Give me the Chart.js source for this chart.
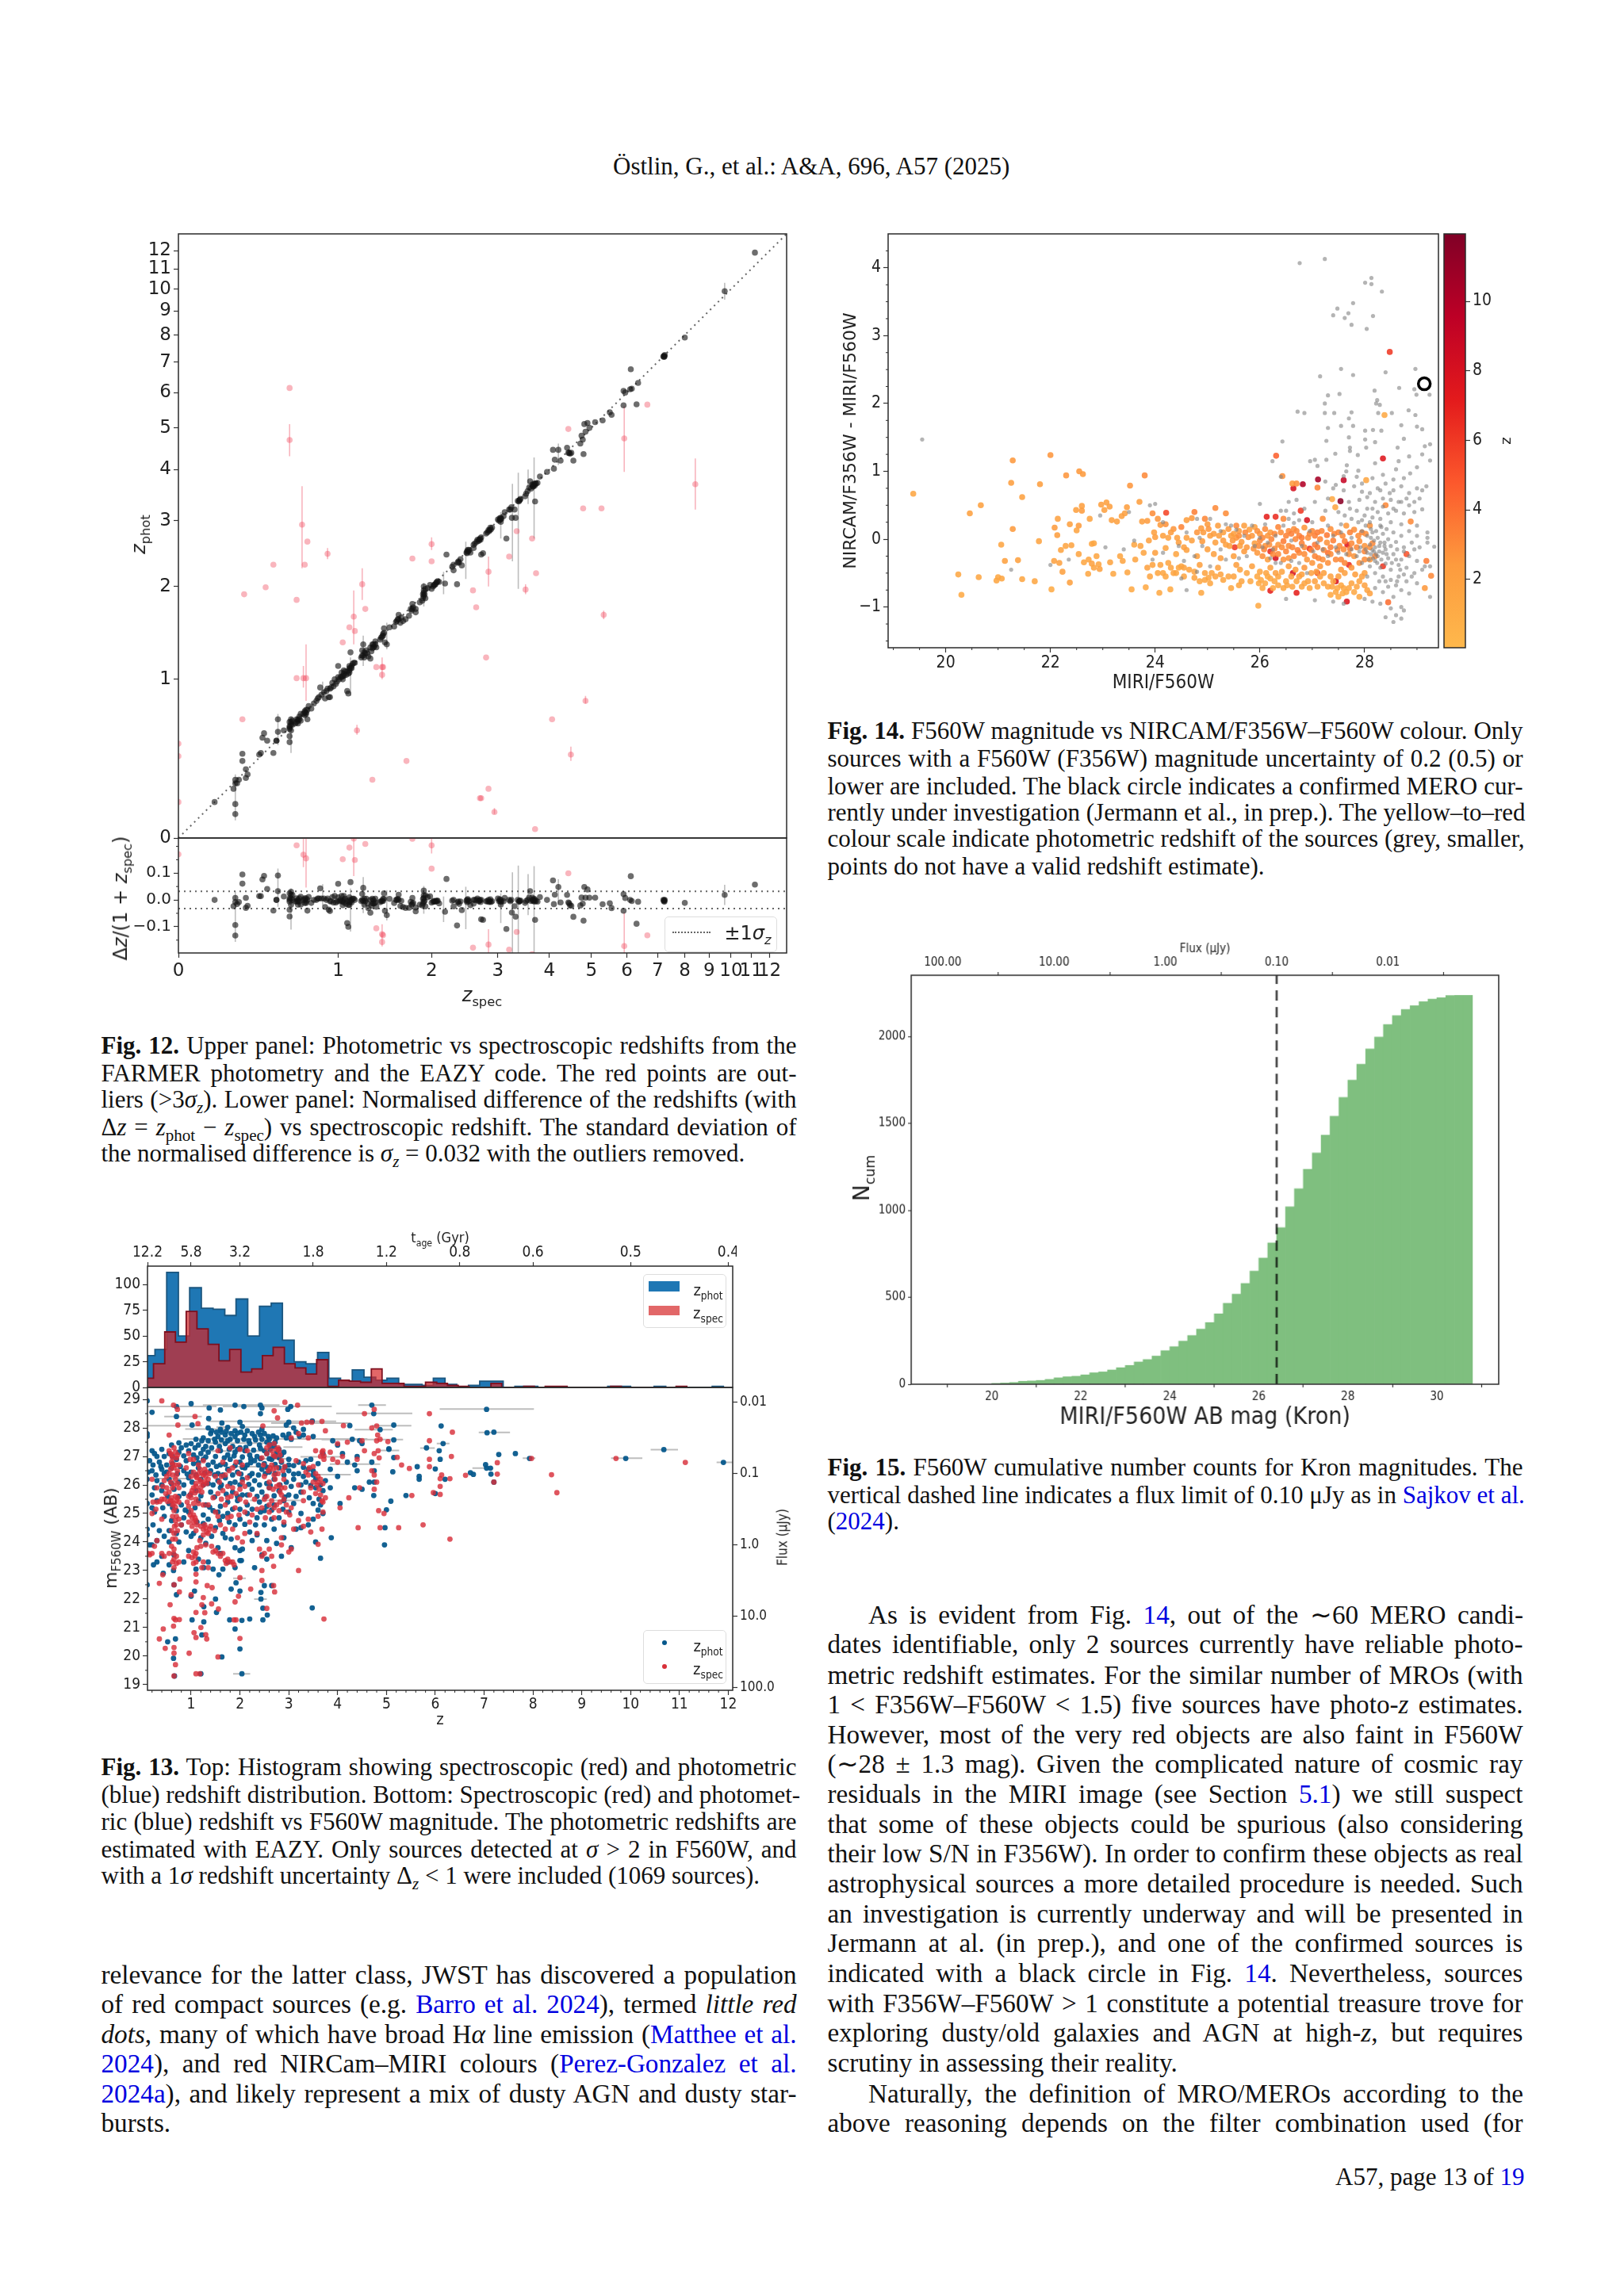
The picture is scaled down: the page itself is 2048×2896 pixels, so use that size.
<!DOCTYPE html>
<html><head><meta charset="utf-8">
<script src="https://cdn.jsdelivr.net/npm/chart.js@4"></script>
<style>
html,body{margin:0;background:#fff;width:2048px;height:2896px;overflow:hidden}
canvas{position:absolute;display:block}
.l{position:absolute;font-family:"Liberation Serif",serif;color:#111;white-space:nowrap;line-height:38px}
.l a{color:#0000e0}
sub{font-size:.68em;line-height:0}
.t{position:absolute;white-space:nowrap;color:#222;font-family:"DejaVu Sans",sans-serif;line-height:1}
.box{position:absolute;border:1px solid #ddd;border-radius:5px;background:rgba(255,255,255,.8)}
</style></head><body>
<script>
// ---------- Fig. 12 data: [z_spec, z_phot]
const fig12Ticks=[0,1,2,3,4,5,6,7,8,9,10,11,12];
const fig12GoodA=[[.17,.17],[.28,.11],[.28,.16],[.27,.24],[.28,.27],[.29,.27],[.28,.29],[.3,.29],[.34,.3],[.32,.445],[.32,.4],[.34,.35],[.35,.32],[.42,.44],[.43,.45],[.44,.55],[.45,.58],[.47,.53],[.51,.45],[.53,.53],[.53,.53],[.54,.59],[.54,.68],[.58,.6],[.62,.52],[.62,.56],[.62,.62],[.62,.66],[.63,.68],[.63,.66],[.64,.64],[.67,.66],[.68,.68],[.68,.65],[.69,.7],[.7,.72],[.7,.67],[.73,.71],[.74,.73],[.74,.75],[.75,.68],[.76,.78],[.82,.82],[.84,.85],[.85,.93],[.86,.87],[.88,.89],[.89,.84],[.9,.9],[.92,.85],[.93,.92],[.93,.85],[.95,.97],[.96,.94],[.97,1.0],[.98,.96],[1.0,1.12],[1.0,1.02],[1.02,1.02],[1.03,1.06],[1.04,1.0],[1.05,1.05],[1.05,1.08],[1.05,1.03],[1.08,.9],[1.09,.88],[1.09,1.05],[1.1,1.08],[1.1,1.12],[1.11,1.25],[1.12,1.1],[1.13,1.14],[1.15,1.15],[1.22,1.22],[1.22,1.27],[1.23,1.33],[1.24,1.2],[1.25,1.24],[1.26,1.27],[1.3,1.19],[1.31,1.26],[1.32,1.29],[1.33,1.33],[1.34,1.31],[1.35,1.36],[1.36,1.3],[1.4,1.38],[1.42,1.41],[1.43,1.44],[1.44,1.5],[1.45,1.35],[1.47,1.33],[1.5,1.51],[1.55,1.52],[1.58,1.58],[1.6,1.65],[1.6,1.6],[1.62,1.56],[1.65,1.58],[1.68,1.6],[1.72,1.64],[1.75,1.7],[1.76,1.78],[1.77,1.74],[1.8,1.72],[1.8,1.68],[1.85,1.8],[1.88,1.82],[1.9,1.88],[1.9,1.95],[1.9,2.0],[1.92,1.85],[1.95,1.98],[1.98,2.02],[2.0,1.97],[2.02,2.0],[2.04,2.02],[2.06,2.05],[2.1,2.06],[2.18,2.04],[2.2,2.45],[2.3,2.3],[2.3,2.22],[2.35,2.03],[2.38,2.33],[2.4,2.38],[2.42,2.29],[2.5,2.5],[2.52,2.5],[2.55,2.48],[2.6,2.6],[2.6,2.55],[2.65,2.65],[2.68,2.66],[2.7,2.7],[2.72,2.72],[2.72,2.45],[2.75,2.47],[2.8,2.78],[2.85,2.82],[2.88,2.85],[2.9,2.88],[3.02,3.0],[3.05,3.05],[3.05,2.98],[3.1,3.08],[3.12,3.15],[3.15,2.7],[3.2,3.2],[3.25,3.05],[3.3,3.2],[3.32,3.05],[3.38,3.35],[3.4,3.38],[3.5,3.45],[3.55,3.55],[3.6,3.75],[3.62,3.6],[3.65,3.65],[3.68,3.7],[3.7,3.35],[3.7,3.7],[3.75,3.72],[3.8,3.85],[3.95,3.95],[4.08,4.45],[4.1,4.02],[4.12,4.22],[4.2,4.45],[4.25,4.2],[4.4,4.5],[4.45,4.38],[4.5,4.38],[4.55,4.2],[4.72,4.6],[4.75,4.8],[4.78,4.7],[4.8,4.35],[4.82,5.1],[4.85,4.9],[4.9,5.13],[4.95,5.0],[5.1,5.15],[5.3,5.2],[5.5,5.42],[5.55,5.35],[5.9,5.62],[5.9,6.05],[5.95,6.0],[6.1,6.1],[6.12,6.75],[6.15,6.12],[6.3,5.65],[6.35,6.3],[7.2,7.2],[7.22,7.18],[7.25,7.25],[8.0,7.9],[9.7,9.9],[11.2,11.9]];
const fig12GoodB=[[.62,.61],[.62,.63],[.63,.6],[.63,.64],[.64,.67],[.66,.65],[.67,.68],[.68,.67],[.69,.68],[.72,.72],[.73,.73],[.73,.74],[.74,.72],[.75,.75],[.78,.76],[.8,.8],[.83,.84],[.91,.92],[.94,.93],[.99,.98],[1.01,1.0],[1.03,1.02],[1.04,1.03],[1.06,1.07],[1.07,1.04],[1.08,1.07],[1.1,1.1],[1.1,1.06],[1.11,1.1],[1.12,1.12],[1.14,1.15],[1.21,1.2],[1.23,1.22],[1.24,1.25],[1.27,1.24],[1.28,1.21],[1.3,1.3],[1.32,1.33],[1.33,1.3],[1.35,1.33],[1.41,1.4],[1.43,1.42],[1.44,1.45],[1.57,1.57],[1.59,1.6],[1.63,1.62],[1.74,1.72],[1.76,1.72],[1.89,1.85],[1.89,1.9],[1.9,1.92],[1.91,1.9],[1.92,1.97],[2.03,2.02],[2.05,2.03],[2.07,2.06],[2.08,2.07],[2.28,2.27],[2.36,2.33],[2.37,2.35],[2.49,2.48],[2.5,2.47],[2.51,2.52],[2.53,2.52],[2.62,2.62],[2.66,2.68],[2.69,2.68],[2.71,2.68],[2.82,2.8],[2.84,2.84],[2.86,2.84],[2.87,2.88],[3.0,3.02],[3.03,3.04],[3.04,3.02],[3.06,3.03],[3.22,3.2],[3.24,3.24],[3.36,3.36],[3.39,3.37],[3.41,3.4],[3.52,3.5],[3.58,3.62],[3.64,3.68],[3.66,3.64],[3.67,3.67],[3.69,3.66],[3.72,3.7],[4.43,4.38],[4.47,4.36],[7.23,7.22],[7.24,7.19]];
const fig12GoodErr=[[.28,.08,.32],[.54,.5,.72],[.63,.45,.7],[.87,.83,.98],[1.11,.86,1.2],[1.23,1.12,1.42],[1.47,1.28,1.56],[1.9,1.75,2.05],[2.16,1.9,2.2],[2.48,2.1,2.65],[3.26,2.35,3.7],[3.37,1.97,3.93],[3.56,3.3,4.0],[3.68,2.7,4.27],[3.05,2.7,3.15],[4.2,4.1,4.6],[9.7,9.5,10.3]];
const fig12Outliers=[[.62,6.14],[.62,4.69],[.71,2.93],[.73,2.3],[.75,2.65],[.91,2.46],[.51,2.3],[.46,1.99],[.33,1.9],[.67,1.83],[1.22,2.03],[1.25,1.72],[1.1,1.51],[1.14,1.63],[1.15,1.47],[1.04,1.35],[1.36,1.11],[1.42,1.11],[1.42,1.04],[1.43,1.11],[.67,1.01],[.72,1.01],[.74,1.01],[.32,.68],[1.17,.6],[1.69,.4],[1.32,.29],[0,.51],[0,.43],[0,.17],[2.72,.19],[2.7,.19],[2.84,.24],[2.94,.12],[3.7,.04],[4.49,.44],[4.06,.68],[4.85,.82],[2.8,1.2],[5.33,1.65],[3.51,1.96],[3.72,2.18],[2.84,2.2],[2.59,1.95],[2.64,1.74],[3.2,2.42],[3.34,2.82],[3.64,2.7],[4.79,3.22],[5.27,3.22],[8.42,3.69],[5.92,4.73],[6.65,5.64],[4.43,4.97],[2.0,2.61],[2.0,2.35],[1.76,2.39]];
const fig12OutErr=[[.62,4.3,5.1],[.71,2.25,3.65],[.91,2.38,2.55],[1.22,1.83,2.25],[1.14,1.33,1.95],[1.42,1.0,1.2],[.72,.93,1.12],[.74,.82,1.33],[1.17,.57,.64],[2.94,.11,.14],[4.49,.4,.49],[4.85,.8,.86],[5.33,1.6,1.7],[3.51,1.9,2.03],[2.84,2.0,2.42],[2.0,2.52,2.72],[8.42,3.2,4.25],[5.92,3.95,5.6]];
const fig12Sigma=.032;
const fig12Limit=[0,13];
const fig12Good=fig12GoodA.concat(fig12GoodB);
// ---------- Fig. 13 data
const ageTicksZ=[.107,1,2,3.5,5,6.5,8,10,12];
const ageLabels=['12.2','5.8','3.2','1.8','1.2','0.8','0.6','0.5','0.4'];
const fluxTicksMag=[28.9,26.4,23.9,21.4,18.9];
const fluxLabels13=['0.01','0.1','1.0','10.0','100.0'];
const photEdges=[.02,.26,.50,.74,.97,1.21,1.45,1.69,1.92,2.16,2.40,2.64,2.87,3.11,3.35,3.59,3.82,4.06,4.30,4.54,4.78,5.01,5.25,5.49,5.73,5.96,6.20,6.44,6.68,6.91,7.15,7.39,7.63,7.87,8.10,8.34,8.58,8.82,9.05,9.29,9.53,9.77,10.00,10.24,10.48,10.72,10.95,11.19,11.43,11.67,11.90];
const photCounts=[31,37,112,50,97,77,76,70,86,50,79,82,46,25,23,34,9,6,17,10,7,9,3,3,2,9,3,0,2,6,6,0,1,1,0,0,0,0,0,0,1,1,0,0,1,0,0,0,0,1];
const specEdges=[.01,.23,.46,.68,.90,1.12,1.35,1.57,1.79,2.02,2.24,2.46,2.68,2.91,3.13,3.35,3.57,3.80,4.02,4.24,4.47,4.69,4.91,5.13,5.36,5.58,5.80,6.03,6.25,6.47,6.69,6.92,7.14,7.36,7.58,7.81,8.03,8.25,8.48,8.70,8.92,9.14,9.37,9.59,9.81,10.03,10.26,10.48,10.70,10.93,11.15];
const specCounts=[9,23,54,44,74,57,42,26,37,15,18,31,39,23,19,13,27,1,7,6,5,18,4,4,1,1,5,4,2,1,0,0,4,0,0,1,0,1,1,0,0,0,0,1,0,0,0,0,0,1];
const zPhotA=[[.1,28.95],[1,28.85],[1.9,28.8],[.7,28.75],[1.37,28.7],[1.6,28.63],[2.08,28.75],[2.42,28.8],[2.45,28.7],[2.98,28.65],[3.04,28.75],[4.7,28.8],[4.74,28.5],[7.05,28.65],[.2,28.55],[.7,28.4],[2.42,28.5],[1.36,28.33],[1.63,28.17],[2,28.2],[1.02,28.1],[3,28.2],[3.48,28.24],[4.25,28.08],[5.15,28.1],[6.12,28.07],[7.06,27.83],[7.2,27.85],[7.3,27.07],[7.64,27.1],[7.93,26.93],[9.9,26.93],[10.68,27.24],[11.9,26.79],[6.16,27.45],[5.82,27.3],[6.08,27.2],[6.1,26.9],[5.15,26.96],[5.05,27.27],[5.15,27.58],[4.87,27.94],[5.63,26.64],[5.67,26.3],[5.67,26.2],[5.13,26.46],[6,26.56],[6.2,26.2],[7.03,26.71],[7.05,26.59],[7.13,26.59],[7.14,26.38],[7.2,26.1],[6.72,26.43],[6.78,26.37],[5.4,25.63],[6,25.7],[4.74,25.63],[5.09,25.43],[5,25.13],[4.97,24.5],[4.96,23.9],[3.87,24.15],[3.55,24],[3.65,23.43],[3.48,21.69],[2.56,21.44],[2.47,21.68],[2.47,21.27],[2.2,21.3],[2.04,21.25],[1.79,21.27],[1.9,20.95],[2,20.25],[1.63,19.97],[2.04,19.38],[.66,19.3],[1.2,19.38],[.64,19.92],[.68,20.6],[.52,20.5],[1.02,21.27],[1.22,20.74],[1.26,21.2],[1.26,21.73],[1.52,21.53],[1.5,22],[1.07,22.28],[1,22.1],[.7,22.15],[.65,22.5],[.1,22.5],[.23,23.2],[.43,22.9],[.64,23],[1.57,22.85],[1.26,23.1],[1.92,22.57],[1.82,22.35],[2,22.28],[2.43,22.23],[2.43,22],[2.5,22.47],[2.65,22.47],[2.03,23.35],[2,23.7],
[1.35,28],[1.6,27.95],[1.75,28.02],[1.9,27.9],[2.05,28.05],[2.45,27.95],[2.95,28.1],[3.1,28],[3.3,27.95],[.1,27.7],[.1,27.8],[1.25,27.65],[1.4,27.8],[1.55,27.7],[1.7,27.75],[1.8,27.6],[1.9,27.7],[2.1,27.75],[2.3,27.7],[2.5,27.8],[2.6,27.6],[2.95,27.65],[3.05,27.6],[3.3,27.75],[3.5,27.7],[3.9,27.55],[.6,27.4],[.8,27.3],[1,27.45],[1.15,27.4],[1.3,27.35],[1.5,27.5],[1.7,27.45],[1.85,27.35],[2,27.3],[2.2,27.45],[2.4,27.4],[2.55,27.5],[2.7,27.35],[2.8,27.25],[4,27.4],[4.3,27.6],[4.45,27.55],[4.5,27.45],[5.05,27.25],[.2,27.2],[.25,27.1],[.4,27.25],[.55,27.1],[.75,27.15],[.95,27.2],[1.05,27.05],[1.2,27.1],[1.35,27.15],[1.6,27.2],[1.75,27.05],[1.9,27.15],[2.1,27.2],[2.2,27.05],[2.35,27],[2.55,27.1],[2.7,27],[2.9,27.15],[3.7,27.1],[4.1,27.1],[4.4,27],[.15,26.85],[.35,26.8],[.5,26.7],[.7,26.9],[.9,26.85],[1.05,26.75],[1.25,26.9],[1.45,26.8],[1.6,26.7],[1.8,26.9],[2,26.8],[2.15,26.7],[2.3,26.85],[2.5,26.75],[2.65,26.9],[2.85,26.8],[3,26.7],[3.35,26.85],[3.6,26.75],[4.2,26.8],[4.35,26.7],[4.7,26.8],[.2,26.5],[.4,26.55],[.45,26.4],[.6,26.6],[.85,26.5],[1,26.45],[1.15,26.6],[1.4,26.5],[1.55,26.4],[1.75,26.55],[1.95,26.45],[2.1,26.6],[2.25,26.4],[2.45,26.55],[2.6,26.45],[2.8,26.6],[3,26.5],[3.2,26.4],[3.4,26.55],[3.85,26.55],[4.4,26.5],[4.75,26.5],[.1,26.2],[.3,26.15],[.55,26.2],[.75,26.1],[.95,26.25],[1.2,26.2],[1.35,26.05],[1.55,26.15],[1.7,26.25],[1.9,26.1],[2.05,26.2],[2.3,26.15],[2.55,26.05],[2.7,26.2],[2.95,26.1],[3.1,26.2],[3.35,26.1],[3.55,26.2],[3.75,26.15],[4,26.3],[4.65,26.1],[4.75,26.1],[.2,25.65],[.4,25.8],[.65,25.85],[.85,25.7],[1.1,25.8],[1.4,25.75],[1.6,25.9],[1.85,25.75],[2.05,25.65],[2.25,25.85],[2.45,25.75],[2.6,25.9],[2.8,25.8],[3,25.65],[3.25,25.75],[3.55,25.9],[3.7,25.8],[3.85,25.9],[4.35,25.9],[4.5,25.85],[.1,25.35],[.3,25.45],[.55,25.35],[.8,25.3],[1.15,25.45],[1.3,25.3],[1.6,25.25],[1.75,25.4],[1.95,25.45],[2.15,25.3],[2.4,25.4],[2.55,25.25],[2.7,25.3],[2.9,25.45],[3.1,25.35],[3.5,25.35],[3.65,25.3],[4.05,25.35],[.2,25.2],[.25,25.05],[.45,24.9],[.7,25.1],[.95,25.05],[1.25,24.95],[1.45,25.1],[1.65,24.9],[1.85,25.15],[2,24.8],[2.15,25],[2.35,24.85],[2.5,25.1],[2.8,24.85],[3,25.05],[3.5,24.8],[3.7,25],[.1,24.45],[.35,24.4],[.55,24.4],[.8,24.6],[1.05,24.3],[1.25,24.65],[1.5,24.5],[1.65,24.3],[1.9,24.6],[2.2,24.35],[2.35,24.25],[2.5,24.6],[2.7,24.45],[3.15,24.45],[3.25,24.5],[.1,24.25],[.15,23.9],[.3,24.05],[.55,24],[.75,24],[1,24.2],[1.3,23.95],[1.55,23.8],[1.7,24.15],[1.9,23.8],[2.05,23.75],[2.45,23.55],[2.55,23.4],[2.75,23.95],[2.85,23.5],[3.05,23.8],[.4,23.5],[.65,23.55],[.95,23.7],[1.15,23.4],[1.35,23.3],[1.6,23.6],[1.75,23.3],[2,23.35]];
const zPhotB=[[1.42,27.9],[1.52,27.85],[1.62,27.85],[1.72,27.88],[1.82,27.8],[1.95,27.82],[2.02,27.85],[2.15,27.9],[2.25,27.8],[2.38,27.85],[2.42,27.75],[2.58,27.7],[2.68,27.72],[2.75,27.65],[2.88,27.75],[3,27.78],[3.15,27.85],[3.22,27.7],[1.1,27.6],[1.22,27.55],[1.35,27.55],[1.48,27.6],[1.62,27.58],[1.75,27.55],[1.95,27.55],[2.08,27.6],[2.18,27.55],[2.32,27.58],[2.45,27.6],[2.62,27.42],[2.72,27.5],[.75,27.48],[.9,27.4],[1.08,27.3],[1.25,27.25],[1.42,27.3],[1.58,27.35],[1.78,27.25],[1.95,27.25],[2.12,27.32],[2.28,27.22],[2.42,27.28],[2.5,27.2],[2.62,27.25],[2.75,27.12],[2.85,27.05],[.3,27],[.45,27],[.62,27],[.85,27.02],[1.12,26.95],[1.3,26.98],[1.5,27],[1.68,26.95],[1.88,27.02],[2.05,26.98],[2.22,26.92],[2.42,26.92],[2.6,26.92],[2.8,26.95],[3,26.9],[3.2,26.8],[3.45,26.9],[.22,26.7],[.38,26.65],[.62,26.75],[.78,26.65],[1.15,26.78],[1.35,26.7],[1.52,26.65],[1.7,26.72],[1.9,26.68],[2.05,26.62],[2.22,26.78],[2.38,26.7],[2.55,26.62],[2.72,26.72],[2.92,26.62],[3.1,26.68],[3.3,26.62],[3.5,26.5],[.12,26.45],[.28,26.35],[.5,26.45],[.72,26.4],[.92,26.38],[1.1,26.35],[1.28,26.42],[1.48,26.35],[1.65,26.35],[1.85,26.35],[2.02,26.38],[2.2,26.32],[2.38,26.35],[2.52,26.4],[2.72,26.4],[2.9,26.35],[3.1,26.38],[3.3,26.3],[3.5,26.35],[.4,26],[.6,26.05],[.85,26],[1.02,26.1],[1.25,26],[1.45,26],[1.62,26],[1.8,26.05],[2,26],[2.18,26.02],[2.4,26],[2.62,25.98],[2.82,26],[3.05,25.95],[3.25,26],[3.45,25.98],[3.65,26],[.25,25.9],[.52,25.6],[.75,25.6],[.98,25.65],[1.2,25.62],[1.48,25.58],[1.72,25.68],[1.95,25.6],[2.15,25.65],[2.35,25.6],[2.52,25.58],[2.7,25.62],[2.92,25.58],[3.15,25.6],[3.42,25.55],[3.62,25.5],[.42,25.2],[.62,25.2],[.88,25.12],[1.08,25.2],[1.38,25.22],[1.55,25.05],[1.75,25],[2,25.15],[2.25,25.15],[2.42,25.05],[2.65,25.12],[2.88,25.15],[3.25,25],[3.6,25.12],[.6,24.75],[.85,24.85],[1.12,24.7],[1.35,24.8],[1.58,24.75],[1.78,24.7],[2.1,24.62],[2.32,24.6],[2.65,24.8],[2.9,24.6],[3.4,24.6],[.22,24.6],[.45,24.2],[.7,24.3],[.9,24.35],[1.2,24.15],[1.42,24.2],[1.82,24.1],[2.25,24.05],[2.55,24.05],[2.9,24.15],[.3,23.3],[.55,23.2],[.85,23.3],[1.1,23.05],[1.45,23.05],[1.65,23.05],[1.9,23.1],[2.3,23.1],[.2,23.9]];
const zPhotPts=zPhotA.concat(zPhotB);
const zPhotErr=[[.10,1.0,28.75],[.89,1.52,28.75],[1.24,2.81,28.8],[1.65,3.24,28.75],[1.95,3.88,28.75],[3.97,5.53,28.51],[4.42,4.99,28.8],[6.09,8.02,28.66],[.45,1.22,28.4],[.10,1.22,28.08],[1.35,3.97,28.23],[2.64,4.27,28.17],[.88,1.78,27.96],[1.52,3.07,28.03],[4.7,5.51,28.08],[4.35,5.13,27.94],[6.89,7.53,27.84],[.83,3.67,27.61],[2.04,4.61,27.61],[3.67,5.34,27.59],[1.35,2.64,27.47],[2.89,3.28,27.33],[4.87,5.26,27.21],[5.69,5.99,27.29],[6.03,6.29,27.45],[10.41,10.97,27.24],[9.6,10.24,26.94],[11.76,12.09,26.79],[1.86,2.21,19.38],[1.86,2.12,22.73],[2.29,2.55,22],[2.38,3.07,26.92],[3.84,4.87,26.73],[3.54,4.27,26.36],[3.24,4.1,26.99],[.32,.92,26.22],[2.21,3.24,25.46],[6.76,7.19,26.59],[7.79,8.05,26.94],[1.24,2.64,27.19],[1.78,3.07,26.64]];
const zSpecA=[[.4,28.95],[2.92,28.9],[3.18,28.8],[.64,28.8],[.72,28.65],[2.7,28.6],[1.08,28.4],[2.77,28.35],[4.55,28.5],[4.75,28.65],[5.88,28.5],[6.35,27.85],[4.7,28],[4.8,28.07],[4.82,27.75],[4.87,27.6],[5.03,27.52],[4.12,28.08],[3.68,28.23],[3.47,28.2],[3.37,28.2],[3.26,28.17],[1.14,28.15],[.73,28.1],[.55,27.75],[2.47,28.07],[3.75,27.9],[4.83,27.2],[5.22,26.97],[5.31,26.7],[5.47,26.58],[5.88,26.9],[5.88,26.64],[5.88,27.55],[6.13,26.35],[6.1,26.22],[6.3,26.22],[6.62,26.34],[7.27,26.78],[7.27,26.38],[7.2,26.1],[7.97,26.93],[8.38,26.36],[8.49,25.73],[9.7,26.93],[11.12,26.79],[6.33,27],[6.1,25.95],[6.1,25.67],[5.96,25.73],[5.52,25.63],[4.23,25.55],[4.05,25.2],[4.84,25.1],[4.95,25],[4.42,24.5],[4.87,24.5],[5.25,24.5],[5.75,24.6],[6.3,24.1],[3.68,24.45],[3.6,23.92],[3.45,24.35],[3.2,23],[2.69,23.15],[2.69,22.47],[2.71,22.25],[2.45,22.65],[2.22,22.35],[2,22.75],[2.55,21.67],[3.72,21.3],[2,20.62],[1.55,19.97],[1.1,19.38],[.65,19.3],[1.18,19.38],[.96,20.1],[.65,20.1],[.68,19.7],[.65,20.3],[.47,20.27],[.35,20.6],[.43,20.95],[.64,21.05],[.65,21.32],[.68,21.27],[.76,21.28],[1.06,20.82],[1.1,20.65],[1.3,20.75],[1.32,20.6],[1.2,21],[1.1,21.53],[1.28,21.52],[.57,21.8],[.76,22.25],[1.25,22.05],[1.22,21.8],[1.42,21.83],[1.56,21.65],[1,22.15],[1.1,22.6],[1.1,22.87],[.65,22.5],[.35,22.55],[.77,22.7],[1.43,22.4],[1.33,22.47],[1.9,21.9],[1.97,22.1],[1.88,21.27],[1.92,21.27],[2.45,23],[.42,22.85],
[.55,27.2],[.6,27.05],[.65,27.3],[.7,26.95],[.75,26.7],[.6,26.8],[.65,26.6],[.55,26.4],[.7,26.35],[.45,26.15],[.5,25.9],[.65,26],[.75,25.9],[.3,25.9],[.2,26.2],[.55,25.75],[.45,25.5],[.6,25.45],[.65,25.35],[.7,25.45],[.75,25.4],[.3,25.4],[.22,25.4],[.4,25.5],[.2,25],[.4,24.8],[.65,25.1],[.7,24.9],[.75,24.8],[.7,24.6],[.65,24.3],[.6,24.4],[.55,23.6],[.65,23.75],[.7,23.5],[.65,23.4],[.75,23.3],[.65,23.1],[.45,23.5],[.2,23.6],[.25,23.85],[.3,24.05],[.12,23.6],[.15,23.55],[.8,24.6],[.95,27.1],[1.05,26.9],[1.15,26.7],[1.25,26.85],[1.05,26.45],[1.15,26.4],[1.25,26.35],[1.3,26.3],[1.35,26.2],[1.2,26.1],[1.25,26],[1.1,26.05],[1.05,25.9],[1.15,25.8],[1,25.7],[.95,25.6],[1.1,25.5],[1.25,25.3],[1.35,25.3],[.95,25.25],[1,25.1],[1.05,24.95],[1.08,24.85],[.95,24.7],[1.02,24.55],[1.1,24.4],[1.3,24.5],[1.4,24.55],[1.35,24.3],[1.25,24.25],[1.2,23.85],[1.1,23.6],[1.05,23.65],[.95,23.5],[1.3,23.9],[1.45,23.65],[1.55,23.6],[1.6,23.5],[1.7,23.35],[1.8,23.3],[1.85,23.3],[1.05,23.25],[1.1,23.3],[1.25,23.3],[1.35,23.1],[1.55,27.2],[1.8,27.3],[2,27.25],[2.15,27.2],[1.65,26.8],[1.85,26.6],[2.05,26.7],[1.5,26.3],[1.7,26.35],[2.15,26.25],[1.75,25.95],[1.85,25.9],[1.65,25.8],[1.55,25.7],[2,25.85],[2.2,25.65],[1.45,25.55],[1.75,25.55],[2,25.5],[1.5,25.05],[1.9,25.2],[2.1,25.05],[2.35,25.15],[1.75,24.85],[2.2,24.7],[1.6,24.6],[1.85,24.45],[1.95,24.15],[2.05,24],[2.35,24.3],[2.4,23.75],[2.5,23.6],[2.45,23.5],[2.6,23.75],[2.65,23.5],[2.55,27.3],[2.6,27.4],[2.7,27.45],[2.75,27.25],[2.8,27.2],[2.45,26.95],[2.65,26.7],[2.75,26.6],[2.85,26.85],[2.5,26.3],[2.6,26.1],[2.7,26.35],[2.8,26],[2.85,25.9],[2.9,26.2],[2.55,25.6],[2.65,25.45],[2.75,25.3],[2.85,25.65],[2.9,25.5],[2.45,25.2],[2.6,25.05],[2.8,25.1],[2.95,25.05],[3.05,25.2],[2.9,24.7],[3.1,24.45],[3.2,24.75],[3.3,24.55],[2.85,24.15],[3,23.65],[3.05,23.75],[2.85,23.9],[3.05,27.65],[3.2,27.8],[3.4,27.65],[3.55,27.2],[3.7,27.2],[3.85,27.15],[3.65,27],[3.15,26.85],[3.3,26.75],[3.5,26.65],[3.4,26.35],[3.6,26.3],[3.65,26.2],[3.5,26.1],[3.2,26],[3.3,25.75],[3.55,25.7],[3.65,25.65],[3.75,25.55],[3.3,25.45],[3.7,25.4],[3.7,25.05],[3.6,24.9],[3.4,24.8],[4,27.45],[4.2,27.5],[4.5,27.55],[4.55,27.2],[4.75,27.1],[4.8,27.55],[4.85,26.95],[4.4,26.9],[4.7,26.5],[4.75,26.35],[4.8,26.1],[4.75,25.85],[4.45,25.9],[4.1,27],[4,26.8],[3.9,26.9]];
const zSpecB=[[.58,27.1],[.62,26.95],[.68,27.15],[.72,27.05],[.62,26.7],[.68,26.7],[.58,26.55],[.72,26.5],[.62,26.35],[.68,26.2],[.58,26.1],[.62,25.9],[.72,26.05],[.5,26.3],[.42,25.95],[.48,25.7],[.6,25.55],[.68,25.6],[.72,25.55],[.62,25.3],[.68,25.22],[.58,25.45],[.52,25.42],[.36,25.42],[.28,25.15],[.62,24.9],[.68,24.75],[.66,24.55],[.72,24.4],[.62,24.1],[.68,24.1],[.6,23.85],[.64,23.6],[.7,23.25],[.62,23.3],[.4,23.6],[.9,26.6],[.98,26.9],[1,26.3],[1.1,26.3],[1.18,26.55],[1.22,26.42],[1.28,26.55],[1.32,26.45],[1.38,26.4],[1.12,26.25],[1.18,26.18],[1.28,26.12],[1.32,26.05],[1.1,25.95],[1.2,25.92],[1.02,25.8],[1.08,25.72],[1.22,25.75],[1.0,25.55],[.92,25.4],[1.05,25.35],[1.15,25.35],[.98,24.95],[1.02,24.85],[1.1,24.75],[1.12,24.6],[1.05,24.7],[1.2,24.55],[1.28,24.6],[1.32,24.35],[1.25,24.45],[1.38,24.45],[1.18,24.05],[1.12,23.8],[1.02,23.45],[1.08,23.5],[1.42,23.85],[1.5,23.7],[1.65,23.6],[1.75,23.4],[1.72,23.25],[1.88,23.2],[1.22,23.1],[1.58,26.1],[1.62,26.3],[1.78,26.5],[1.92,26.8],[1.98,26.4],[2.05,26.1],[2.1,25.95],[1.62,25.5],[1.7,25.3],[1.82,25.6],[1.92,25.7],[2.12,25.4],[2.3,25.5],[1.55,24.9],[1.82,24.9],[1.98,24.95],[2.25,24.95],[1.48,24.4],[1.7,24.45],[2.1,24.3],[2.55,27.1],[2.65,27.2],[2.68,27.05],[2.72,27],[2.78,27.3],[2.82,27.05],[2.48,26.7],[2.58,26.5],[2.62,26.6],[2.68,26.55],[2.78,26.4],[2.88,26.5],[2.92,26.65],[2.72,26.2],[2.6,25.9],[2.68,25.85],[2.75,25.95],[2.82,25.75],[2.92,25.9],[2.5,25.5],[2.6,25.3],[2.7,25.2],[2.82,25.4],[2.95,25.3],[2.52,24.85],[2.7,24.85],[3.02,24.95],[3.55,26.4],[3.58,26],[3.6,26.1],[3.7,26.05],[3.62,25.85],[3.45,25.9],[3.68,25.45],[3.42,26.6],[3.35,26.45],[3.72,26.9],[3.68,27.15],[3.72,27.02]];
const zSpecPts=zSpecA.concat(zSpecB);
// ---------- Fig. 14 data
const colorStops=[[0,254,184,76],[.2,253,155,62],[.4,252,88,44],[.6,227,26,28],[.8,189,0,38],[1,128,0,38]];
const zRange=[.03,11.94];
const colorbarTicks=[2,4,6,8,10];
const withZA=[[19.38,.67,1.5],[20.46,.38,2],[21.28,1.16,2.5],[21.25,.83,2.2],[21.46,.62,2],[21.8,.81,2.2],[22,1.24,2.6],[22.3,.94,2.6],[22.55,1,2.5],[22.62,.96,2.4],[20.67,.5,2],[21.28,.15,2.4],[21.06,-.08,1.6],[22.14,.3,1.8],[22.08,.17,2.3],[22.13,.06,2.2],[21.78,-.03,1.7],[21.13,-.32,2],[21.38,-.31,2],[20.24,-.52,1.4],[20.63,-.56,1.5],[20.3,-.82,1.2],[21,-.56,1.4],[20.97,-.61,1.5],[21.07,-.58,1.5],[21.46,-.59,1.5],[21.7,-.62,1.5],[22.02,-.74,1.1],[22.37,-.64,2],[22.23,-.48,2],[22.17,-.35,1.8],[22.07,-.32,1.8],[22.2,-.16,1.7],[22.29,-.1,1.6],[22.4,-.09,1.7],[22.54,-.22,1.6],[22.37,.22,1.9],[22.49,.43,2],[22.6,.49,2.1],[22.6,.42,2.3],[22.54,.2,2.3],[22.5,.13,1.7],[22.75,.3,1.6],[22.97,.51,2.1],[23.07,.54,2],[23.13,.48,2.1],[23.03,.43,2],[23.17,.28,2],[23.27,.26,2],[23.36,.34,1.9],[23.42,.38,1.9],[23.46,.47,2.2],[23.52,.79,2.6],[23.8,.94,3],[23.7,.55,2.2],[22.83,-.06,1.5],[22.79,-.07,1.5],[22.64,-.34,1.5],[22.73,-.3,1.5],[22.79,-.36,1.8],[22.83,-.42,1.7],[22.94,-.44,1.8],[22.88,-.25,1.5],[22.92,-.37,1.6],[22.72,-.51,1.4],[23.14,-.34,1.7],[23.2,-.51,1.4],[23.33,-.25,1.5],[23.38,-.32,1.6],[23.47,-.49,1.5],[23.55,-.74,1.2],[23.82,-.71,1.2],[24.08,-.79,1.2],[24.29,-.74,1.1],[24.88,-.79,1.3],[25.97,-.98,1.2],[27.66,-.92,7.5],[26.31,1.23,4.5],[26.43,.93,2.8],[28.48,2.76,6],[28.38,1.83,1.3],[28.35,1.19,7.5],[27.11,.88,10.5],[26.82,.81,10],[27.6,.87,9],[28.03,.87,1.5],[26.64,.75,8],[26.62,.82,2.4],[26.7,.82,2.8],[27.1,.76,3.2],[27.38,.59,1.2],[27.54,.56,11.5],[27.44,.47,1.5],[24.21,.39,5.5],[26.78,.42,6],[26.9,.28,8],[28.4,.5,3],[28.88,.26,3],[26.13,.33,7],[26.3,.33,6.5],[26.2,-.18,6.5],[26.3,-.28,8],[25.52,-.12,6],[26.63,-.5,8],[26.7,-.79,7],[26.2,-.76,7],[27.7,-.38,6.5],[27.1,-.5,6],[27.45,-.62,8],[27.67,-.08,7.5],[27.3,-.2,4],[26.95,-.14,6.5],[28.35,-.4,6],[29.15,-.72,2.5],[29.27,-.54,3],[29.18,-.32,3.5],[28.8,-.22,5],
[23.75,.26,2.1],[23.85,.27,2.3],[23.95,.38,2.9],[24.05,.3,2.6],[24.1,.21,2.4],[24.2,.22,2.7],[24.35,.15,2.6],[24.5,.18,3.2],[24.6,.28,2.2],[24.75,.4,3.4],[24.7,.31,2.5],[24.95,.3,3.1],[25,.22,2.4],[25.15,.46,3],[25.35,.38,2.9],[25.2,.2,2.2],[25.3,.1,2],[25.45,.05,2.2],[25.55,.2,3],[25.6,.12,2.4],[25.7,.2,2.1],[25.8,.14,2.2],[25.9,.18,1.9],[26,.08,2.6],[26.1,.15,3],[26.2,.1,2.4],[26.35,.18,3.2],[26.45,.3,3.1],[26.55,.12,3],[26.65,.15,2.8],[26.75,.05,3.4],[26.85,.17,2.6],[27,.12,3],[27.1,.1,3.5],[27.2,.3,2.9],[27.35,.15,2.8],[27.5,.1,3.2],[27.65,.2,2.5],[27.8,.14,2.8],[27.95,.1,3.1],[28.1,.2,2.7],[24,.03,2.2],[24.15,.05,2],[24.3,.1,2.3],[24.45,-.05,2.1],[24.6,.02,1.9],[24.8,.1,2.6],[24.9,-.03,2.4],[25.05,.05,2.2],[25.15,-.05,1.9],[25.3,-.02,2.4],[25.42,-.1,2],[25.55,.02,2.6],[25.65,-.04,2.3],[25.78,.03,2.8],[25.9,-.06,2.2],[26,-.02,3],[26.1,-.1,2.7],[26.22,0,3.2],[26.35,-.08,2.6],[26.45,-.03,3.5],[26.55,-.1,2.9],[26.68,0,3.1],[26.8,-.06,3.3],[26.92,.02,2.8],[27.05,-.08,3.6],[27.15,0,3.1],[27.28,-.05,2.7],[27.4,-.02,3.4],[27.52,-.1,2.9],[27.62,-.03,3.5],[27.75,-.06,3],[27.9,-.03,2.8],[28,-.1,2.6],[28.15,-.06,3],[24,-.2,1.9],[24.2,-.13,1.7],[24.4,-.22,1.6],[24.6,-.16,1.8],[24.8,-.25,2],[25,-.15,2],[25.12,-.22,1.8],[25.25,-.28,2.2],[25.5,-.25,1.9],[25.7,-.18,2.4],[25.95,-.2,2.5],[26.15,-.3,2.2],[26.35,-.22,3],[26.55,-.28,2.7],[26.75,-.2,3],[26.9,-.3,2.6],[27.05,-.25,3.2],[27.2,-.3,2.8],[27.35,-.22,2.9],[27.55,-.3,3.1],[27.8,-.25,2.6],[28,-.3,2.9],[28.2,-.25,3],[24.1,-.38,1.7],[24.3,-.42,1.6],[24.5,-.4,1.5],[24.65,-.45,1.7],[24.4,-.5,1.5],[24.2,-.55,1.4],[24.05,-.5,1.5],[23.9,-.55,1.6],[23.85,-.42,1.8],[24.55,-.55,1.6],[24.75,-.57,1.7],[24.95,-.6,1.5],[25.05,-.65,1.4],[25.15,-.55,1.6],[25.3,-.6,1.5],[25.5,-.55,1.7],[25.45,-.72,1.3],[25.65,-.62,1.5],[25.75,-.5,1.4],[25.95,-.55,1.3],[26.1,-.65,1.2],[26.2,-.58,1.3],[26.25,-.72,1.2],[26.05,-.72,1.3],[26.35,-.55,1.5],[26.5,-.62,1.7],[26.45,-.72,1.5],[26.62,-.7,1.6],[26.75,-.55,1.8],[26.85,-.65,1.6],[26.95,-.72,1.4],[27.05,-.62,1.8],[27.15,-.55,2],[27.3,-.7,1.6],[27.45,-.78,1.4],[27.55,-.68,1.5],[27.65,-.78,1.5],[27.75,-.65,1.7],[27.85,-.7,1.6],[27.95,-.55,1.8],[28.05,-.75,1.7],[27.55,-.45,2.4],[27.75,-.42,2.6],[27.15,-.4,2.5],[26.85,-.42,2.6],[26.55,-.4,2.2],[26.2,-.42,2],[25.85,-.4,2],[25.55,-.38,2.1],[25.2,-.42,1.8],[24.85,-.38,1.9],[27.9,-.85,1.4],[28.1,-.8,1.8],[27.35,-.82,1.2],[27.5,-.85,1.1],[28.45,-.93,4]];
const withZB=[[25.4,.15,2.5],[25.5,.08,2.2],[25.6,.05,2.8],[25.72,.1,3],[25.85,.05,2.5],[25.95,.12,2.8],[26.05,.02,3.1],[26.15,.05,2.6],[26.28,.08,3],[26.4,.1,2.9],[26.5,.05,3.3],[26.6,.08,3.4],[26.7,.12,3],[26.8,.02,3.5],[26.95,.08,3],[27.05,.05,3.4],[27.18,.12,3.1],[27.28,.06,3.6],[27.42,.08,3.2],[27.58,.05,3],[27.72,.1,3.3],[27.88,.05,2.9],[28.02,.08,2.8],[25.35,-.08,2],[25.48,-.02,2.5],[25.62,-.1,2.2],[25.75,-.12,2.5],[25.88,-.14,2.7],[25.98,-.1,2.9],[26.08,-.15,3.1],[26.18,-.08,2.8],[26.28,-.14,3],[26.42,-.12,2.9],[26.5,-.18,3.2],[26.62,-.12,3.1],[26.72,-.16,3.4],[26.85,-.12,3],[26.98,-.16,3.3],[27.1,-.12,3.5],[27.22,-.16,3],[27.35,-.12,3.3],[27.48,-.16,3.1],[27.6,-.15,2.9],[27.72,-.14,3.4],[27.85,-.12,3],[28,-.18,3.2],[28.1,-.12,2.8],[26.05,-.25,2.8],[26.25,-.22,3],[26.45,-.3,2.7],[26.65,-.25,3.1],[26.85,-.22,2.9],[27,-.35,2.6],[27.12,-.28,3.2],[27.3,-.35,2.8],[27.45,-.3,3],[27.62,-.35,3.1],[27.7,-.22,2.8],[27.9,-.35,2.7],[28.1,-.3,2.5],[26,-.48,1.5],[26.12,-.5,1.6],[26.3,-.5,1.8],[26.42,-.48,1.7],[26.6,-.55,1.9],[26.68,-.45,2.2],[26.8,-.52,2],[26.98,-.5,1.8],[27.08,-.48,2.3],[27.22,-.5,2],[27.35,-.55,1.8],[27.5,-.55,2.2],[27.62,-.5,1.9],[27.82,-.52,2.2],[28,-.5,2],[25.6,-.68,1.4],[25.82,-.62,1.3],[25.98,-.65,1.2],[26.15,-.55,1.2],[26.28,-.62,1.3],[26.35,-.68,1.3],[26.02,-.6,1.2],[26.52,-.68,1.4],[26.7,-.62,1.5],[26.8,-.7,1.5],[26.92,-.62,1.6],[27.1,-.7,1.5],[27.22,-.65,1.6],[27.38,-.7,1.5],[27.4,-.62,1.7],[27.6,-.72,1.4],[27.7,-.72,1.5],[27.48,-.72,1.2],[27.58,-.8,1.2],[27.8,-.78,1.4],[27.9,-.62,1.7],[28,-.68,1.8],[25.08,-.5,1.6],[24.95,-.5,1.7],[25.02,-.57,1.5],[24.85,-.62,1.4],[24.75,-.48,1.6],[25.25,-.52,1.7],[25.4,-.55,1.5],[25.62,-.45,1.6],[24.45,-.42,1.5],[24.55,-.42,1.7],[24.35,-.5,1.6],[24.15,-.5,1.5],[24.25,-.35,1.6],[24.92,.1,2.3],[25.02,.15,2.6],[25.12,.08,2.2],[25.22,.05,2.1],[24.88,.16,2.4],[24.7,-.02,2],[24.55,-.12,1.9],[24.42,.02,2.1],[24.25,.02,1.8],[23.98,.1,1.9],[23.88,-.02,1.8],[23.72,-.1,1.7],[23.78,-.2,1.6],[23.6,-.08,1.5],[23.62,-.3,1.6],[23.95,-.38,1.7]];
const withZ=withZA.concat(withZB);
const noZA=[[19.55,1.47],[26.76,4.07],[27.24,4.13],[28.13,3.85],[28.01,3.78],[28.13,3.76],[28.33,3.65],[27.78,3.48],[27.48,3.4],[27.69,3.33],[27.4,3.3],[27.62,3.26],[28.16,3.29],[27.75,3.16],[28.04,3.1],[27.55,2.51],[27.78,2.42],[27.15,2.4],[28.4,2.46],[28.97,2.51],[28.66,2.23],[28.95,2.21],[28.19,2.19],[27.52,2.14],[27.3,2.12],[27.24,2],[28.24,2.05],[28.22,2],[28.29,1.98],[28.99,2.13],[29.24,2.13],[26.72,1.88],[26.85,1.86],[27.24,1.86],[27.42,1.86],[27.75,1.87],[27.7,1.78],[28.26,1.86],[28.52,1.86],[28.84,1.9],[28.97,1.83],[27.3,1.64],[27.55,1.67],[27.78,1.67],[28.01,1.6],[28.16,1.61],[28.32,1.6],[28.7,1.68],[29,1.66],[29.1,1.62],[27.7,1.5],[27.27,1.45],[26.43,1.44],[28.01,1.47],[28.2,1.43],[28.75,1.48],[29.25,1.4],[29.15,1.37],[27.72,1.35],[28.03,1.35],[28.63,1.35],[27.44,1.26],[27.72,1.3],[27.87,1.24],[29.1,1.25],[28.85,1.22],[27.05,1.17],[26.96,1.15],[27.27,1.17],[26.24,1.15],[29.25,1.16],[27.66,1.09],[27.1,1.08],[28.2,1.12],[28.65,1.15],[27.88,1.01],[27.65,1],[28.6,1.03],[28.87,.97],[29,1.06],[26.4,.92],[27.6,.93],
[27.4,.75],[27.6,.72],[27.8,.78],[27.95,.7],[28.1,.68],[28.25,.75],[28.4,.82],[28.55,.72],[28.7,.78],[28.85,.68],[29,.75],[29.1,.72],[26.7,.58],[26.55,.55],[27.05,.55],[27.3,.6],[27.7,.55],[27.9,.58],[28.05,.62],[28.2,.55],[28.35,.6],[28.5,.58],[28.65,.55],[28.8,.6],[28.95,.55],[26,.52],[26.5,.42],[26.65,.38],[26.85,.45],[27.25,.42],[27.5,.4],[27.85,.42],[28.05,.45],[28.25,.4],[28.45,.38],[28.6,.42],[28.75,.38],[28.95,.4],[29.1,.44],[26.45,.2],[26.65,.24],[27,.25],[27.55,.22],[27.95,.28],[28.1,.25],[28.3,.2],[28.5,.25],[28.7,.22],[29,.2],[29.2,.02],[24,.52],[23.9,.5],[23.5,.4],[22.95,.35],[24.15,.25],[24.8,.3],[25.05,.3],[25.35,.22],[25.55,.14],[25.7,.05],[26,.02],[26.15,-.05],[26.3,.05],[26.6,-.02],[26.8,-.1],[27.1,-.05],[27.4,.05],[27.55,.1],[27.75,.02],[27.95,.12],[28.05,.05],[28.15,.1],[28.25,.02],[28.35,.08],[28.45,0],[28.55,.1],[28.7,.05],[28.85,.12],[29,.05],[29.2,.1],[28.1,-.08],[28.2,-.12],[28.3,-.05],[28.4,-.15],[28.5,-.1],[28.6,-.04],[28.75,-.12],[28.9,-.05],[29.05,-.12],[29.2,-.05],[29.33,-.11],[27.9,-.18],[28.05,-.2],[28.15,-.16],[28.25,-.25],[28.35,-.2],[28.45,-.28],[28.55,-.22],[28.7,-.3],[28.85,-.25],[29,-.32],[29.15,-.4],[29.25,-.4],[27.95,-.35],[28.1,-.4],[28.2,-.32],[28.3,-.42],[28.4,-.36],[28.5,-.45],[28.65,-.38],[28.8,-.42],[28.95,-.5],[29.1,-.45],[28.05,-.55],[28.2,-.5],[28.35,-.55],[28.5,-.6],[28.65,-.55],[28.8,-.62],[29,-.65],[28.2,-.72],[28.35,-.78],[28.45,-.7],[28.55,-.85],[28.7,-.75],[28.85,-.8],[29.25,-.85],[28,-.88],[28.15,-.92],[28.3,-.95],[28.5,-1.02],[28.7,-1],[28.75,-1.05],[28.4,-1.15],[28.6,-1.12],[28.55,-1.22],[28.7,-1.17],[27.4,-.92],[27.6,-.95],[27.05,-.9],[26.5,-.88],[26.9,-.5],[26.4,-.35],[26.25,-.15],[25.9,-.1],[25.6,-.28],[25.35,-.3],[24.9,-.1],[24.75,-.25],[24.45,-.1],[24.15,-.2],[23.95,-.3],[23.6,-.02],[23.4,-.15],[23.05,-.12],[22.35,-.3],[21.25,-.45],[22,-.38],[24.5,-.58],[24.6,-.75],[26.3,-.35],[27.5,-.2],[27.2,-.15]];
const noZB=[[28.12,.02],[28.18,-.02],[28.22,.12],[28.28,-.1],[28.32,.18],[28.38,-.05],[28.42,.15],[28.18,-.18],[28.28,-.18],[28.38,-.1],[28.08,-.3],[28.16,-.28],[28.24,-.35],[28.12,.15],[28.02,.2],[28,.35],[28.15,.32],[28.3,.3],[27.92,-.12],[28.02,-.15],[28.12,-.22],[28.22,-.22],[28.32,-.3],[28.42,-.22],[28.52,-.35],[28.6,-.3],[28.75,-.18],[28.95,-.15],[28.62,-.15],[28.68,-.45],[28.75,-.52],[28.9,-.55],[28.6,-.68],[28.4,-.62],[28.28,-.62],[28.62,-.62],[27.85,-.25],[27.75,-.15],[27.65,-.22],[27.45,-.12],[27.3,-.25],[27.02,-.18],[26.75,-.35],[26.6,-.32],[26.2,-.28],[26.05,-.12],[25.75,-.25],[25.25,-.15],[25.05,-.4],[24.8,-.48],[24.55,-.32],[24.6,.1],[24.85,.02],[25.25,.12],[25.45,.2],[25.85,.2],[26.1,.22],[26.4,.42],[26.55,.3],[26.75,.28],[26.95,.12],[27.3,.2],[27.62,.35],[27.75,.3],[27.88,.25],[27.72,.45],[28.15,.45],[28.35,.48],[28.55,.45],[28.7,.55],[28.85,.5],[29.05,.6],[29.18,.78],[27.25,.85],[27.45,.8],[27.85,.92],[28.15,.9],[28.35,.95],[28.55,.88],[28.75,.9],[27.95,.82],[28.3,.72],[28.48,.68]];
const noZ=noZA.concat(noZB);
const confirmedMero=[[29.14,2.29]];
// ---------- Fig. 15 data
const magBinCentres=[20.1,20.3,20.5,20.7,20.9,21.1,21.3,21.5,21.7,21.9,22.1,22.3,22.5,22.7,22.9,23.1,23.3,23.5,23.7,23.9,24.1,24.3,24.5,24.7,24.9,25.1,25.3,25.5,25.7,25.9,26.1,26.3,26.5,26.7,26.9,27.1,27.3,27.5,27.7,27.9,28.1,28.3,28.5,28.7,28.9,29.1,29.3,29.5,29.7,29.9,30.1,30.3,30.5,30.7];
const cumCounts=[5,7,10,17,19,22,28,37,43,46,54,66,71,82,95,108,128,142,162,193,216,248,280,317,355,405,466,518,580,650,726,813,900,1020,1124,1236,1330,1433,1541,1649,1749,1840,1928,1997,2068,2120,2155,2177,2200,2215,2223,2235,2236,2236];
const fluxLimitMag=26.4;
const fluxLabels15=['0.01','0.10','1.00','10.00','100.00'];
// ---------- Page text
const B='<b>',E='</b>',zs='<i>z</i><sub>spec</sub>',zp='<i>z</i><sub>phot</sub>',sg='<i>σ<sub>z</sub></i>';
const LX=127.5,RX=1043.5,W=877,BF=33.2;
const pageLines=[
[773,210,0,'Östlin, G., et al.: A&amp;A, 696, A57 (2025)',31],
[LX,1319,W,B+'Fig. 12.'+E+' Upper panel: Photometric vs spectroscopic redshifts from the',31],
[LX,1354,W,'FARMER photometry and the EAZY code. The red points are out-',31],
[LX,1387,W,'liers (&gt;3'+sg+'). Lower panel: Normalised difference of the redshifts (with',31],
[LX,1422,W,'Δ<i>z</i> = '+zp+' − '+zs+') vs spectroscopic redshift. The standard deviation of',31],
[LX,1455,0,'the normalised difference is '+sg+' = 0.032 with the outliers removed.',31],
[LX,2229,W,B+'Fig. 13.'+E+' Top: Histogram showing spectroscopic (red) and photometric',31],
[LX,2264,W,'(blue) redshift distribution. Bottom: Spectroscopic (red) and photomet-',31],
[LX,2298,W,'ric (blue) redshift vs F560W magnitude. The photometric redshifts are',31],
[LX,2333,W,'estimated with EAZY. Only sources detected at <i>σ</i> &gt; 2 in F560W, and',31],
[LX,2366,0,'with a 1<i>σ</i> redshift uncertainty Δ<sub><i>z</i></sub> &lt; 1 were included (1069 sources).',31],
[LX,2491,W,'relevance for the latter class, JWST has discovered a population',BF],
[LX,2528,W,'of red compact sources (e.g. <a>Barro et al. 2024</a>), termed <i>little red</i>',BF],
[LX,2566,W,'<i>dots</i>, many of which have broad H<i>α</i> line emission (<a>Matthee et al.</a>',BF],
[LX,2603,W,'<a>2024</a>), and red NIRCam–MIRI colours (<a>Perez-Gonzalez et al.</a>',BF],
[LX,2641,W,'<a>2024a</a>), and likely represent a mix of dusty AGN and dusty star-',BF],
[LX,2678,0,'bursts.',BF],
[RX,922,W,B+'Fig. 14.'+E+' F560W magnitude vs NIRCAM/F356W–F560W colour. Only',31],
[RX,957,W,'sources with a F560W (F356W) magnitude uncertainty of 0.2 (0.5) or',31],
[RX,992,W,'lower are included. The black circle indicates a confirmed MERO cur-',31],
[RX,1025,W,'rently under investigation (Jermann et al., in prep.). The yellow–to–red',31],
[RX,1058,W,'colour scale indicate photometric redshift of the sources (grey, smaller,',31],
[RX,1093,0,'points do not have a valid redshift estimate).',31],
[RX,1851,W,B+'Fig. 15.'+E+' F560W cumulative number counts for Kron magnitudes. The',31],
[RX,1886,W,'vertical dashed line indicates a flux limit of 0.10 μJy as in <a>Sajkov et al.</a>',31],
[RX,1919,0,'(<a>2024</a>).',31],
[1095,2037,826,'As is evident from Fig. <a>14</a>, out of the ∼60 MERO candi-',BF],
[RX,2074,W,'dates identifiable, only 2 sources currently have reliable photo-',BF],
[RX,2113,W,'metric redshift estimates. For the similar number of MROs (with',BF],
[RX,2150,W,'1 &lt; F356W–F560W &lt; 1.5) five sources have photo-<i>z</i> estimates.',BF],
[RX,2188,W,'However, most of the very red objects are also faint in F560W',BF],
[RX,2225,W,'(∼28 ± 1.3 mag). Given the complicated nature of cosmic ray',BF],
[RX,2263,W,'residuals in the MIRI image (see Section <a>5.1</a>) we still suspect',BF],
[RX,2301,W,'that some of these objects could be spurious (also considering',BF],
[RX,2338,W,'their low S/N in F356W). In order to confirm these objects as real',BF],
[RX,2376,W,'astrophysical sources a more detailed procedure is needed. Such',BF],
[RX,2414,W,'an investigation is currently underway and will be presented in',BF],
[RX,2451,W,'Jermann at al. (in prep.), and one of the confirmed sources is',BF],
[RX,2489,W,'indicated with a black circle in Fig. <a>14</a>. Nevertheless, sources',BF],
[RX,2527,W,'with F356W–F560W &gt; 1 constitute a potential treasure trove for',BF],
[RX,2564,W,'exploring dusty/old galaxies and AGN at high-<i>z</i>, but requires',BF],
[RX,2602,0,'scrutiny in assessing their reality.',BF],
[1095,2641,826,'Naturally, the definition of MRO/MEROs according to the',BF],
[RX,2678,W,'above reasoning depends on the filter combination used (for',BF],
[1684,2746,0,'A57, page 13 of <a>19</a>',31]
];
pageLines.forEach(([x,y,w,h,s])=>{const d=document.createElement('div');d.className='l';d.innerHTML=h;
 d.style.cssText=`left:${x}px;top:${y-19}px;font-size:${s}px;`+(w?`width:${w}px;text-align:justify;text-align-last:justify;`:'');document.body.appendChild(d);});
function T(x,y,h,css,rot){const d=document.createElement('div');d.className='t';d.innerHTML=h;
 d.style.cssText=`left:${x}px;top:${y}px;transform:translate(-50%,-50%)${rot?` rotate(${rot}deg)`:''};z-index:5;`+(css||'');document.body.appendChild(d);return d;}
function R(x0,y0,x1,y1,css,cls){const d=document.createElement('div');d.className=cls||'box';
 d.style.cssText=`left:${x0}px;top:${y0}px;width:${x1-x0}px;height:${y1-y0}px;z-index:4;`+(css||'');document.body.appendChild(d);}
// ---------- Chart helpers
const COND='"DejaVu Sans Condensed","DejaVu Sans",sans-serif',DJV='"DejaVu Sans",sans-serif';
function ax(a){return{type:a.type||'linear',position:a.pos,min:a.min,max:a.max,display:a.display!==false,offset:false,
 afterFit(s){s.paddingLeft=s.paddingRight=s.paddingTop=s.paddingBottom=0;if(a.fit!=null){if(s.isHorizontal())s.height=a.fit;else s.width=a.fit;}},
 afterBuildTicks(s){s.ticks=(a.ticks||[a.min]).map(v=>({value:v}));},
 grid:{display:true,drawOnChartArea:false,drawTicks:true,tickLength:a.len||6,tickColor:'#333',tickWidth:1.2},
 border:{display:false},
 ticks:{autoSkip:false,maxRotation:0,minRotation:0,padding:a.pad??3,color:'#222',font:a.font,callback:(v,i)=>a.labels?a.labels[i]:String(v)},
 title:a.title?{display:true,text:a.title,font:a.titleFont,color:'#222',padding:0}:{display:false}};}
function frame(minors){return{id:'frame',afterDatasetsDraw(c){const g=c.ctx,A=c.chartArea;g.save();g.strokeStyle='#2a2a2a';g.lineWidth=1.5;
 g.strokeRect(A.left,A.top,A.right-A.left,A.bottom-A.top);g.lineWidth=1;
 (minors||[]).forEach(m=>{const s=c.scales[m.id];m.vals.forEach(v=>{const p=s.getPixelForValue(v);g.beginPath();
  if(s.isHorizontal()){g.moveTo(p,A.bottom);g.lineTo(p,A.bottom+3);}
  else if(s.position==='right'){g.moveTo(A.right,p);g.lineTo(A.right+3,p);}
  else{g.moveTo(A.left,p);g.lineTo(A.left-3,p);}g.stroke();});});g.restore();}};}
function mk(rect,m,axes,cfg,minors){const[x0,y0,x1,y1]=rect,[l,t,r,b]=m;const c=document.createElement('canvas');
 const w=x1-x0+l+r,h=y1-y0+t+b;c.width=w;c.height=h;c.style.left=(x0-l)+'px';c.style.top=(y0-t)+'px';c.style.width=w+'px';c.style.height=h+'px';document.body.appendChild(c);
 cfg.options=Object.assign({responsive:false,animation:false,devicePixelRatio:1,events:[],
  layout:{autoPadding:false,padding:{left:axes.includes('l')?0:l,top:axes.includes('t')?0:t,right:axes.includes('r')?0:r,bottom:axes.includes('b')?0:b}},
  plugins:{legend:{display:false},tooltip:{enabled:false}}},cfg.options);
 cfg.plugins=[frame(minors)];return new Chart(c,cfg);}
const dots=(data,color,r)=>({type:'scatter',data,showLine:false,backgroundColor:color,pointBackgroundColor:color,pointRadius:r,pointBorderWidth:0,borderWidth:0});
const line=(data,color,w,dash,extra)=>Object.assign({type:'scatter',data,showLine:true,borderColor:color,backgroundColor:color,borderWidth:w,borderDash:dash||[],pointRadius:0,fill:false,tension:0},extra||{});
const P1=v=>1+v; // log(1+z) axes are drawn on a log scale of 1+z
const dzNorm=(s,p)=>(p-s)/(1+s);
// ---------- Fig. 12 upper
const f12x={min:1,max:P1(fig12Limit[1])};
const vUp=(list)=>list.flatMap(([s,a,b])=>[{x:P1(s),y:P1(a)},{x:P1(s),y:P1(b)},{x:null,y:null}]);
const vLo=(list)=>list.flatMap(([s,a,b])=>[{x:P1(s),y:dzNorm(s,a)},{x:P1(s),y:dzNorm(s,b)},{x:null,y:null}]);
const zTicks=fig12Ticks.map(P1),zLab=fig12Ticks.map(String);
mk([225,295,992,1057],[80,10,10,16],'l',{type:'scatter',data:{datasets:[
 dots(fig12Good.map(([s,p])=>({x:P1(s),y:P1(p)})),'rgba(20,20,20,.62)',3.8),
 dots(fig12Outliers.map(([s,p])=>({x:P1(s),y:P1(p)})),'rgba(240,70,90,.4)',3.8),
 line(vUp(fig12GoodErr),'rgba(90,90,90,.4)',1.6),
 line(vUp(fig12OutErr),'rgba(240,90,110,.45)',1.6),
 line(fig12Limit.map(v=>({x:P1(v),y:P1(v)})),'#666',2,[2,5])
]},options:{scales:{
 x:ax({type:'logarithmic',pos:'bottom',...f12x,display:false,ticks:zTicks}),
 y:ax({type:'logarithmic',pos:'left',min:1,max:14,ticks:zTicks,labels:zLab,fit:80,font:{family:DJV,size:23}})
}}});
// ---------- Fig. 12 lower
mk([225,1057,992,1202],[80,2,10,40],'lb',{type:'scatter',data:{datasets:[
 dots(fig12Good.map(([s,p])=>({x:P1(s),y:dzNorm(s,p)})),'rgba(20,20,20,.62)',3.8),
 dots(fig12Outliers.map(([s,p])=>({x:P1(s),y:dzNorm(s,p)})),'rgba(240,70,90,.4)',3.8),
 line(vLo(fig12GoodErr),'rgba(90,90,90,.4)',1.6),
 line(vLo(fig12OutErr),'rgba(240,90,110,.45)',1.6),
 line([P1(fig12Limit[0]),14].map(v=>({x:v,y:fig12Sigma})),'#666',2,[2,5]),
 line([P1(fig12Limit[0]),14].map(v=>({x:v,y:-fig12Sigma})),'#666',2,[2,5])
]},options:{scales:{
 x:ax({type:'logarithmic',pos:'bottom',...f12x,ticks:zTicks,labels:zLab,fit:40,font:{family:DJV,size:23}}),
 y:ax({pos:'left',min:-.198,max:.231,ticks:[-.1,0,.1],labels:['−0.1','0.0','0.1'],fit:80,font:{family:DJV,size:20}})
}}},[{id:'y',vals:[-.15,-.05,.05,.15,.2]}]);
T(175,674,'<i>z</i><sub>phot</sub>','font-size:24px;',-90);
T(608,1255,'<i>z</i><sub>spec</sub>','font-size:24px;');
T(152,1133,'Δ<i>z</i>/(1 + <i>z</i><sub>spec</sub>)','font-size:24px;',-90);
R(838,1156,978,1199);
R(848,1175,896,1175,'border-top:2px dotted #666;','t');
T(943,1177,'±1<i>σ<sub>z</sub></i>','font-size:24px;');
// ---------- Fig. 13 histogram
const xZ={min:.107,max:12.09};
const steps=(edges,counts)=>edges.map((x,i)=>({x,y:i<counts.length?counts[i]:0}));
mk([185.5,1597,924,1750],[50,42,5,14],'lt',{type:'scatter',data:{datasets:[
 line(steps(specEdges,specCounts),'#7d0f1e',1.8,[],{stepped:true,fill:'origin',backgroundColor:'rgba(214,39,40,.7)'}),
 line(steps(photEdges,photCounts),'#1b567f',1.8,[],{stepped:true,fill:'origin',backgroundColor:'#1f77b4'})
]},options:{scales:{
 x:ax({pos:'bottom',...xZ,display:false,ticks:[1]}),
 xTop:ax({pos:'top',...xZ,ticks:ageTicksZ,labels:ageLabels,fit:42,len:5,pad:1,font:{family:COND,size:19}}),
 y:ax({pos:'left',min:0,max:118,ticks:[0,25,50,75,100],fit:50,font:{family:COND,size:19}})
}}});
T(555,1561,'t<sub>age</sub> (Gyr)','font-size:18px;font-family:'+COND+';');
R(811,1607,914,1673);
R(818,1616,857,1629,'background:#1f77b4;','t');
R(818,1647,857,1659,'background:rgba(214,39,40,.7);','t');
T(893,1627,'z<sub>phot</sub>','font-size:20px;font-family:'+COND+';');
T(893,1656,'z<sub>spec</sub>','font-size:20px;font-family:'+COND+';');
// ---------- Fig. 13 scatter
const hBars=zPhotErr.flatMap(([a,b,m])=>[{x:a,y:m},{x:b,y:m},{x:null,y:null}]);
mk([185.5,1750,924,2132],[50,2,62,50],'lbr',{type:'scatter',data:{datasets:[
 dots(zSpecPts.map(([x,y])=>({x,y})),'rgba(216,48,58,.82)',3.4),
 dots(zPhotPts.map(([x,y])=>({x,y})),'rgba(6,88,140,.95)',3.4),
 line(hBars,'rgba(110,110,110,.45)',2)
]},options:{scales:{
 x:ax({pos:'bottom',...xZ,ticks:[1,2,3,4,5,6,7,8,9,10,11,12],fit:50,pad:1,title:'z',titleFont:{family:COND,size:20},font:{family:COND,size:19}}),
 y:ax({pos:'left',min:18.8,max:29.42,ticks:[19,20,21,22,23,24,25,26,27,28,29],fit:50,font:{family:COND,size:19}}),
 yRight:ax({pos:'right',min:18.8,max:29.42,ticks:fluxTicksMag,labels:fluxLabels13,fit:62,font:{family:COND,size:17}})
}}},[{id:'x',vals:[.2,.4,.6,.8,1.2,1.4,1.6,1.8,2.2,2.4,2.6,2.8,3.2,3.4,3.6,3.8,4.2,4.4,4.6,4.8,5.2,5.4,5.6,5.8,6.2,6.4,6.6,6.8,7.2,7.4,7.6,7.8,8.2,8.4,8.6,8.8,9.2,9.4,9.6,9.8,10.2,10.4,10.6,10.8,11.2,11.4,11.6,11.8]},{id:'y',vals:[19.5,20.5,21.5,22.5,23.5,24.5,25.5,26.5,27.5,28.5]}]);
T(140,1940,'m<sub>F560W</sub> (AB)','font-size:22px;',-90);
T(987,1939,'Flux (μJy)','font-size:17px;font-family:'+COND+';',-90);
R(811,2056,914,2122);
T(893,2076,'z<sub>phot</sub>','font-size:20px;font-family:'+COND+';');
T(893,2105,'z<sub>spec</sub>','font-size:20px;font-family:'+COND+';');
R(835,2069,841,2075,'background:#06588c;border-radius:50%;','t');
R(835,2099,841,2105,'background:#d8303a;border-radius:50%;','t');
// ---------- Fig. 14
function zColor(z){const t=(z-zRange[0])/(zRange[1]-zRange[0]);let i=0;while(i<colorStops.length-2&&t>colorStops[i+1][0])i++;
 const a=colorStops[i],b=colorStops[i+1],f=Math.min(1,Math.max(0,(t-a[0])/(b[0]-a[0])));
 return`rgba(${[1,2,3].map(k=>Math.round(a[k]+(b[k]-a[k])*f)).join(',')},.88)`;}
mk([1120,295,1814,817],[60,6,6,59],'lb',{type:'scatter',data:{datasets:[
 Object.assign(dots(confirmedMero.map(([x,y])=>({x,y})),'rgba(0,0,0,0)',7.5),{pointBorderWidth:3.5,pointBorderColor:'#000'}),
 dots(noZ.map(([x,y])=>({x,y})),'rgba(130,130,130,.6)',2.6),
 dots(withZ.map(([x,y])=>({x,y})),withZ.map(p=>zColor(p[2])),3.8)
]},options:{scales:{
 x:ax({pos:'bottom',min:18.9,max:29.41,ticks:[20,22,24,26,28],fit:59,pad:1,title:'MIRI/F560W',titleFont:{family:COND,size:24},font:{family:COND,size:21}}),
 y:ax({pos:'left',min:-1.6,max:4.5,ticks:[-1,0,1,2,3,4],labels:['−1','0','1','2','3','4'],fit:60,title:'NIRCAM/F356W - MIRI/F560W',titleFont:{family:DJV,size:22},font:{family:COND,size:21}})
}}},[{id:'x',vals:[19,19.5,20.5,21,21.5,22.5,23,23.5,24.5,25,25.5,26.5,27,27.5,28.5,29]},{id:'y',vals:[-1.5,-1.25,-.75,-.5,-.25,.25,.5,.75,1.25,1.5,1.75,2.25,2.5,2.75,3.25,3.5,3.75,4.25]}]);
// colourbar
mk([1821,295,1848,817],[2,6,62,6],'r',{type:'bar',data:{labels:['z'],datasets:[{data:[zRange],barPercentage:1,categoryPercentage:1,borderWidth:0,
 backgroundColor(ctx){const A=ctx.chart.chartArea;if(!A)return'#fd8d3c';const g=ctx.chart.ctx.createLinearGradient(0,A.bottom,0,A.top);
  colorStops.forEach(s=>g.addColorStop(s[0],`rgb(${s[1]},${s[2]},${s[3]})`));return g;}}]},
 options:{scales:{
 x:{type:'category',display:false,offset:true},
 y:ax({pos:'right',min:zRange[0],max:zRange[1],ticks:colorbarTicks,fit:62,title:'z',titleFont:{family:DJV,size:18},font:{family:COND,size:21}})
}}});
// ---------- Fig. 15
const x15={min:18.19,max:31.39};
mk([1149,1230,1889.5,1745.5],[60,42,8,60],'ltb',{type:'bar',data:{datasets:[
 line([0,2352].map(y=>({x:fluxLimitMag,y})),'rgba(0,0,0,.72)',2.8,[13,8]),
 {type:'bar',data:magBinCentres.map((x,i)=>({x,y:cumCounts[i]})),backgroundColor:'#7fbf7f',borderWidth:0,barPercentage:1,categoryPercentage:1}
]},options:{scales:{
 x:ax({pos:'bottom',...x15,ticks:[20,22,24,26,28,30],fit:60,len:4,title:'MIRI/F560W AB mag (Kron)',titleFont:{family:COND,size:30},font:{family:COND,size:15}}),
 xTop:ax({pos:'top',...x15,ticks:fluxTicksMag,labels:fluxLabels15,fit:42,len:4,title:'Flux (μJy)',titleFont:{family:COND,size:15},font:{family:COND,size:15}}),
 y:ax({pos:'left',min:0,max:2352,ticks:[0,500,1000,1500,2000],fit:60,len:4,font:{family:COND,size:15}})
}}});
T(1087,1486,'N<sub style="font-size:.62em">cum</sub>','font-size:28px;',-90);
</script>
</body></html>
